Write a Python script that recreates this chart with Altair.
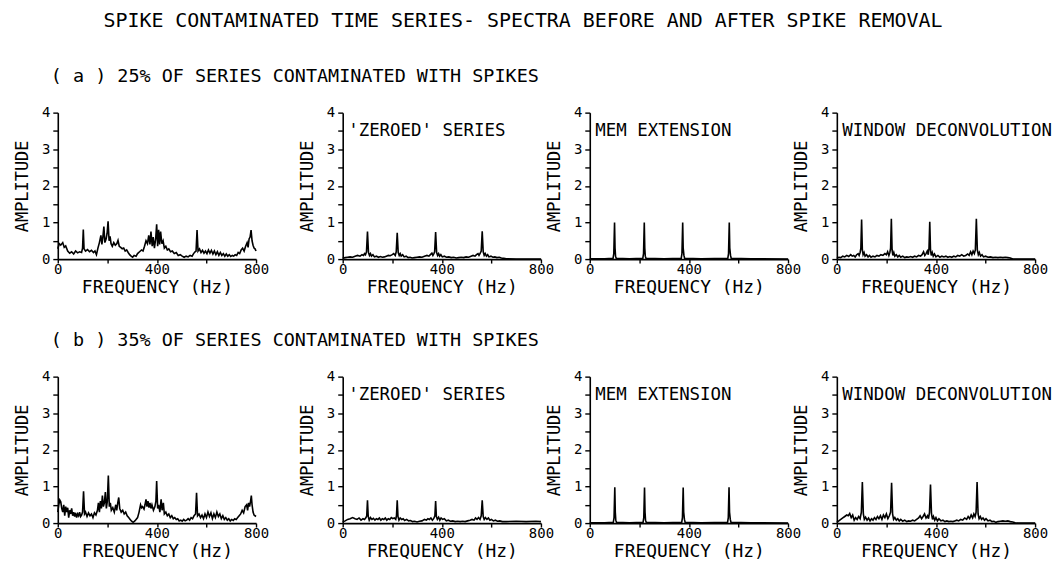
import altair as alt
import pandas as pd

FONT = "DejaVu Sans Mono"

MAIN_TITLE = "SPIKE CONTAMINATED TIME SERIES- SPECTRA BEFORE AND AFTER SPIKE REMOVAL"
ROW_LABELS = ["( a ) 25% OF SERIES CONTAMINATED WITH SPIKES",
              "( b ) 35% OF SERIES CONTAMINATED WITH SPIKES"]
PANEL_LABELS = ["", "'ZEROED'  SERIES", "MEM EXTENSION", "WINDOW DECONVOLUTION"]
X_TICKS = [0, 200, 400, 600, 800]
Y_TICKS = [0, 0.5, 1, 1.5, 2, 2.5, 3, 3.5, 4]

# ---- row (a): 25% contaminated ----
A_RAW_F = [0, 6, 12, 20, 26, 32, 40, 48, 56, 64,
           72, 80, 88, 96, 100, 103, 106, 112, 120, 128,
           136, 144, 150, 156, 162, 168, 174, 178, 182, 186,
           190, 195, 199, 203, 207, 211, 215, 220, 226, 232,
           238, 243, 248, 254, 260, 266, 272, 278, 284, 290,
           296, 302, 308, 316, 322, 330, 338, 344, 350, 356,
           362, 367, 372, 376, 381, 385, 390, 395, 399, 403,
           407, 411, 415, 420, 425, 430, 436, 442, 448, 455,
           462, 470, 478, 486, 494, 502, 510, 518, 526, 534,
           542, 548, 554, 558, 562, 566, 572, 578, 584, 590,
           596, 602, 608, 614, 620, 626, 632, 638, 644, 650,
           656, 662, 668, 674, 680, 686, 692, 698, 704, 710,
           716, 722, 728, 734, 740, 746, 752, 758, 764, 768,
           772, 776, 780, 784, 788, 792, 796, 800]
A_RAW_A = [0.28, 0.42, 0.38, 0.45, 0.32, 0.36, 0.22, 0.16, 0.20, 0.14,
           0.22, 0.17, 0.20, 0.18, 0.30, 0.81, 0.28, 0.22, 0.26, 0.20,
           0.24, 0.18, 0.22, 0.12, 0.30, 0.45, 0.65, 0.40, 0.60, 0.89,
           0.45, 0.55, 0.70, 1.03, 0.50, 0.62, 0.42, 0.35, 0.45, 0.38,
           0.42, 0.51, 0.35, 0.32, 0.28, 0.30, 0.22, 0.25, 0.18, 0.12,
           0.08, 0.05, 0.10, 0.08, 0.15, 0.20, 0.25, 0.22, 0.35, 0.50,
           0.42, 0.65, 0.40, 0.75, 0.35, 0.60, 0.30, 0.55, 0.95, 0.35,
           0.80, 0.40, 0.75, 0.42, 0.50, 0.30, 0.35, 0.25, 0.28, 0.20,
           0.22, 0.15, 0.18, 0.10, 0.12, 0.08, 0.05, 0.08, 0.06, 0.10,
           0.08, 0.15, 0.20, 0.22, 0.79, 0.22, 0.28, 0.18, 0.24, 0.16,
           0.22, 0.15, 0.25, 0.16, 0.24, 0.14, 0.22, 0.12, 0.20, 0.10,
           0.18, 0.10, 0.15, 0.08, 0.14, 0.08, 0.12, 0.07, 0.10, 0.08,
           0.12, 0.10, 0.18, 0.15, 0.25, 0.30, 0.22, 0.35, 0.45, 0.32,
           0.55, 0.60, 0.79, 0.50, 0.38, 0.30, 0.28, 0.22]

A_ZERO_F = [0, 10, 20, 30, 40, 50, 60, 70, 78, 84,
            88, 92, 96, 100, 104, 108, 112, 116, 122, 128,
            136, 144, 152, 160, 168, 176, 184, 192, 200, 206,
            212, 216, 220, 224, 228, 232, 236, 242, 248, 256,
            264, 272, 280, 290, 300, 310, 320, 330, 340, 348,
            354, 360, 364, 368, 371, 375, 379, 383, 387, 391,
            396, 402, 410, 418, 428, 438, 448, 458, 468, 478,
            488, 498, 508, 518, 526, 534, 540, 546, 550, 555,
            559, 563, 567, 571, 575, 580, 585, 590, 598, 606,
            614, 622, 632, 640, 650, 660, 700, 800]
A_ZERO_A = [0.02, 0.04, 0.05, 0.06, 0.05, 0.08, 0.10, 0.08, 0.12, 0.10,
            0.15, 0.12, 0.20, 0.75, 0.18, 0.10, 0.15, 0.08, 0.12, 0.06,
            0.08, 0.05, 0.07, 0.05, 0.06, 0.08, 0.10, 0.09, 0.12, 0.15,
            0.10, 0.20, 0.72, 0.18, 0.10, 0.15, 0.08, 0.12, 0.06, 0.08,
            0.04, 0.05, 0.03, 0.04, 0.05, 0.06, 0.05, 0.08, 0.10, 0.08,
            0.12, 0.16, 0.10, 0.15, 0.20, 0.74, 0.18, 0.10, 0.15, 0.08,
            0.12, 0.06, 0.08, 0.05, 0.06, 0.04, 0.05, 0.03, 0.04, 0.05,
            0.04, 0.06, 0.05, 0.08, 0.10, 0.08, 0.12, 0.15, 0.10, 0.16,
            0.22, 0.76, 0.20, 0.10, 0.15, 0.08, 0.12, 0.06, 0.08, 0.05,
            0.06, 0.04, 0.05, 0.03, 0.02, 0.01, 0.00, 0.00]

A_MEM_F = [0, 60, 94, 97, 100, 102, 104, 107, 160, 214,
           217, 220, 222, 224, 227, 300, 369, 372, 375, 377,
           380, 383, 450, 557, 560, 563, 565, 568, 571, 650, 800]
A_MEM_A = [0.01, 0.01, 0.02, 0.15, 1.00, 0.30, 0.08, 0.02, 0.01, 0.02,
           0.15, 1.00, 0.30, 0.08, 0.02, 0.01, 0.02, 0.15, 1.00, 0.30,
           0.10, 0.02, 0.01, 0.02, 0.15, 1.00, 0.30, 0.10, 0.02, 0.01, 0.00]

A_WIN_F = [0, 8, 16, 24, 32, 40, 48, 56, 62, 68,
           74, 80, 86, 90, 94, 97, 100, 103, 106, 110,
           114, 120, 126, 132, 138, 146, 154, 162, 170, 178,
           186, 194, 200, 205, 210, 214, 217, 220, 223, 226,
           230, 234, 240, 246, 252, 258, 266, 274, 282, 290,
           298, 306, 314, 322, 330, 338, 344, 350, 355, 360,
           365, 369, 372, 375, 378, 381, 385, 389, 394, 400,
           408, 416, 424, 432, 440, 448, 456, 464, 472, 480,
           488, 496, 504, 512, 520, 528, 534, 540, 545, 550,
           555, 559, 563, 567, 571, 575, 580, 586, 592, 600,
           610, 620, 630, 640, 650, 660, 670, 680, 690, 700,
           710, 800]
A_WIN_A = [0.02, 0.05, 0.04, 0.08, 0.06, 0.10, 0.07, 0.12, 0.08, 0.10,
           0.06, 0.12, 0.15, 0.10, 0.18, 0.30, 1.08, 0.25, 0.12, 0.18,
           0.08, 0.12, 0.06, 0.10, 0.05, 0.08, 0.06, 0.10, 0.08, 0.12,
           0.10, 0.15, 0.12, 0.20, 0.10, 0.18, 0.30, 1.10, 0.25, 0.10,
           0.18, 0.08, 0.12, 0.06, 0.10, 0.05, 0.08, 0.04, 0.06, 0.05,
           0.07, 0.05, 0.08, 0.06, 0.10, 0.08, 0.12, 0.20, 0.10, 0.15,
           0.22, 0.12, 0.30, 1.02, 0.25, 0.10, 0.18, 0.08, 0.14, 0.06,
           0.10, 0.05, 0.08, 0.06, 0.08, 0.05, 0.07, 0.05, 0.08, 0.06,
           0.10, 0.08, 0.12, 0.08, 0.10, 0.14, 0.10, 0.20, 0.12, 0.22,
           0.15, 0.25, 1.10, 0.25, 0.12, 0.18, 0.08, 0.12, 0.06, 0.08,
           0.05, 0.06, 0.04, 0.05, 0.04, 0.05, 0.04, 0.05, 0.04, 0.03,
           0.00, 0.00]

# ---- row (b): 35% contaminated ----
B_RAW_F = [0, 4, 8, 12, 16, 20, 24, 28, 32, 36,
           40, 44, 48, 52, 56, 60, 64, 68, 72, 76,
           80, 84, 88, 92, 96, 100, 104, 108, 112, 118,
           124, 130, 136, 142, 148, 154, 160, 164, 168, 172,
           176, 180, 184, 188, 192, 196, 200, 204, 208, 212,
           216, 222, 228, 234, 238, 242, 246, 250, 256, 262,
           268, 274, 280, 286, 292, 298, 304, 310, 316, 322,
           328, 334, 338, 342, 348, 352, 356, 360, 364, 368,
           372, 376, 380, 386, 392, 396, 399, 403, 407, 412,
           417, 421, 426, 430, 436, 442, 448, 454, 460, 466,
           472, 478, 484, 490, 496, 502, 508, 514, 520, 526,
           532, 538, 544, 550, 556, 560, 564, 570, 576, 582,
           588, 594, 600, 606, 612, 618, 624, 630, 636, 642,
           648, 654, 660, 666, 672, 678, 684, 690, 696, 702,
           708, 714, 720, 726, 732, 738, 744, 750, 756, 762,
           766, 770, 774, 778, 781, 784, 788, 792, 796, 800]
B_RAW_A = [0.30, 0.50, 0.63, 0.58, 0.40, 0.30, 0.50, 0.20, 0.45, 0.30,
           0.42, 0.15, 0.35, 0.25, 0.40, 0.20, 0.30, 0.18, 0.28, 0.15,
           0.25, 0.20, 0.30, 0.18, 0.22, 0.30, 0.87, 0.25, 0.30, 0.18,
           0.28, 0.20, 0.25, 0.15, 0.28, 0.22, 0.35, 0.55, 0.30, 0.60,
           0.40, 0.75, 0.45, 0.55, 0.85, 0.40, 0.60, 1.30, 0.45, 0.55,
           0.35, 0.42, 0.30, 0.50, 0.35, 0.55, 0.70, 0.40, 0.30, 0.35,
           0.25, 0.30, 0.20, 0.15, 0.10, 0.05, 0.02, 0.05, 0.10, 0.15,
           0.30, 0.50, 0.42, 0.45, 0.38, 0.50, 0.65, 0.45, 0.60, 0.42,
           0.55, 0.40, 0.50, 0.35, 0.45, 0.60, 1.15, 0.40, 0.50, 0.30,
           0.65, 0.35, 0.55, 0.25, 0.30, 0.20, 0.25, 0.15, 0.20, 0.12,
           0.15, 0.10, 0.12, 0.06, 0.08, 0.05, 0.10, 0.06, 0.08, 0.12,
           0.08, 0.15, 0.12, 0.20, 0.25, 0.83, 0.20, 0.25, 0.15, 0.22,
           0.12, 0.25, 0.15, 0.30, 0.18, 0.28, 0.12, 0.25, 0.15, 0.30,
           0.18, 0.25, 0.12, 0.20, 0.10, 0.15, 0.08, 0.12, 0.06, 0.10,
           0.07, 0.12, 0.10, 0.15, 0.20, 0.25, 0.35, 0.28, 0.45, 0.50,
           0.35, 0.55, 0.45, 0.60, 0.75, 0.50, 0.30, 0.22, 0.20, 0.18]

B_ZERO_F = [0, 10, 20, 30, 40, 50, 58, 66, 74, 82,
            88, 94, 97, 100, 103, 107, 112, 118, 124, 130,
            136, 142, 148, 154, 160, 166, 172, 178, 184, 190,
            196, 202, 208, 214, 217, 220, 223, 227, 232, 238,
            244, 250, 258, 266, 274, 282, 290, 300, 310, 320,
            330, 338, 344, 350, 356, 362, 367, 372, 375, 378,
            382, 387, 392, 397, 403, 410, 418, 426, 434, 444,
            454, 464, 474, 484, 494, 504, 514, 522, 530, 536,
            542, 548, 554, 559, 563, 567, 571, 576, 582, 588,
            594, 600, 608, 616, 624, 634, 644, 660, 700, 740,
            780, 800]
B_ZERO_A = [0.03, 0.06, 0.10, 0.12, 0.15, 0.12, 0.10, 0.14, 0.08, 0.12,
            0.10, 0.15, 0.20, 0.62, 0.18, 0.08, 0.15, 0.10, 0.13, 0.08,
            0.12, 0.10, 0.14, 0.08, 0.12, 0.10, 0.14, 0.08, 0.12, 0.10,
            0.15, 0.12, 0.14, 0.10, 0.20, 0.62, 0.18, 0.08, 0.14, 0.10,
            0.12, 0.07, 0.10, 0.06, 0.07, 0.04, 0.05, 0.03, 0.05, 0.06,
            0.10, 0.08, 0.12, 0.10, 0.14, 0.08, 0.12, 0.20, 0.60, 0.18,
            0.10, 0.16, 0.08, 0.14, 0.10, 0.12, 0.06, 0.08, 0.05, 0.06,
            0.04, 0.05, 0.04, 0.05, 0.04, 0.06, 0.08, 0.10, 0.08, 0.14,
            0.10, 0.15, 0.10, 0.20, 0.62, 0.18, 0.10, 0.15, 0.10, 0.14,
            0.08, 0.10, 0.06, 0.08, 0.05, 0.06, 0.04, 0.04, 0.05, 0.04,
            0.05, 0.04]

B_MEM_F = [0, 60, 95, 98, 101, 103, 105, 108, 160, 215,
           218, 221, 223, 225, 228, 300, 371, 374, 377, 379,
           382, 385, 450, 556, 559, 562, 564, 567, 570, 650, 800]
B_MEM_A = [0.01, 0.01, 0.02, 0.15, 0.98, 0.30, 0.08, 0.02, 0.01, 0.02,
           0.15, 0.97, 0.30, 0.08, 0.02, 0.01, 0.02, 0.15, 0.97, 0.30,
           0.10, 0.02, 0.01, 0.02, 0.15, 0.98, 0.30, 0.10, 0.02, 0.01, 0.00]

B_WIN_F = [0, 8, 16, 24, 32, 40, 46, 52, 58, 64,
           70, 76, 82, 88, 94, 99, 103, 107, 111, 116,
           122, 128, 134, 140, 146, 152, 158, 164, 170, 176,
           182, 188, 194, 200, 206, 212, 217, 221, 225, 229,
           234, 240, 246, 252, 258, 266, 274, 282, 290, 298,
           306, 314, 322, 330, 336, 342, 348, 354, 360, 366,
           370, 374, 378, 382, 386, 390, 395, 400, 406, 412,
           420, 428, 436, 444, 452, 460, 468, 476, 484, 492,
           500, 508, 516, 524, 530, 536, 542, 548, 553, 558,
           562, 566, 570, 574, 579, 584, 590, 596, 602, 610,
           618, 626, 634, 642, 650, 660, 670, 680, 690, 700,
           710, 720, 730, 800]
B_WIN_A = [0.02, 0.06, 0.10, 0.14, 0.18, 0.22, 0.20, 0.26, 0.15, 0.22,
           0.08, 0.15, 0.10, 0.18, 0.12, 0.30, 1.12, 0.25, 0.10, 0.16,
           0.08, 0.14, 0.06, 0.12, 0.08, 0.15, 0.10, 0.18, 0.12, 0.20,
           0.10, 0.22, 0.15, 0.25, 0.12, 0.20, 0.30, 1.10, 0.25, 0.10,
           0.15, 0.08, 0.12, 0.06, 0.10, 0.05, 0.08, 0.04, 0.06, 0.05,
           0.08, 0.06, 0.10, 0.14, 0.20, 0.12, 0.18, 0.25, 0.14, 0.20,
           0.12, 0.30, 1.05, 0.25, 0.10, 0.18, 0.08, 0.15, 0.06, 0.12,
           0.06, 0.08, 0.04, 0.06, 0.04, 0.05, 0.04, 0.06, 0.08, 0.06,
           0.10, 0.08, 0.14, 0.10, 0.18, 0.12, 0.22, 0.14, 0.25, 0.18,
           0.30, 1.12, 0.25, 0.12, 0.18, 0.10, 0.14, 0.08, 0.12, 0.06,
           0.08, 0.04, 0.05, 0.02, 0.04, 0.05, 0.06, 0.05, 0.06, 0.04,
           0.03, 0.01, 0.00, 0.00]

ROWS = [
    [(A_RAW_F, A_RAW_A), (A_ZERO_F, A_ZERO_A), (A_MEM_F, A_MEM_A), (A_WIN_F, A_WIN_A)],
    [(B_RAW_F, B_RAW_A), (B_ZERO_F, B_ZERO_A), (B_MEM_F, B_MEM_A), (B_WIN_F, B_WIN_A)],
]

PANEL_W = 199
FIRST_EXTRA = 38
PANEL_H = 147


def make_panel(freq, amp, label, row_label):
    assert len(freq) == len(amp)
    df = pd.DataFrame({"freq": freq, "amp": amp})
    xscale = alt.Scale(domain=[0, 800], range=[0, PANEL_W], nice=False, zero=False)
    yscale = alt.Scale(domain=[0, 4], nice=False)
    xaxis = alt.Axis(values=X_TICKS,
                     labelExpr="datum.value % 400 == 0 ? format(datum.value, 'd') : ''",
                     title="FREQUENCY (Hz)", tickSize=4, labelPadding=-1,
                     titlePadding=3, labelFontSize=14, titleFontSize=18,
                     labelFlush=False, labelOverlap=False)
    yaxis = alt.Axis(values=Y_TICKS,
                     labelExpr="datum.value % 1 == 0 ? format(datum.value, 'd') : ''",
                     title="AMPLITUDE", tickSize=5, labelPadding=3,
                     titlePadding=10, labelFontSize=14, titleFontSize=17,
                     labelFlush=False, labelOverlap=False)
    line = alt.Chart(df).mark_line(color="black", strokeWidth=1.6).encode(
        x=alt.X("freq:Q", scale=xscale, axis=xaxis),
        y=alt.Y("amp:Q", scale=yscale, axis=yaxis),
    )
    layers = [line]
    if label:
        tdf = pd.DataFrame({"t": [label]})
        txt = alt.Chart(tdf).mark_text(
            align="left", baseline="middle", font=FONT, fontSize=17.5, color="black"
        ).encode(
            x=alt.XDatum(22, type="quantitative", scale=xscale, axis=xaxis),
            y=alt.YDatum(3.5, type="quantitative", scale=yscale, axis=yaxis),
            text="t:N",
        )
        layers.append(txt)
    props = dict(width=PANEL_W + (FIRST_EXTRA if row_label else 0), height=PANEL_H)
    if row_label:
        props["title"] = alt.TitleParams(
            text=row_label, anchor="start", frame="group", dx=-7, offset=20,
            font=FONT, fontSize=18.5, fontWeight="normal", color="black")
    return alt.layer(*layers).properties(**props)


panels = []
for r, row in enumerate(ROWS):
    for c, (f, a) in enumerate(row):
        panels.append(make_panel(f, a, PANEL_LABELS[c], ROW_LABELS[r] if c == 0 else None))

chart = alt.concat(
    *panels, columns=4, spacing={"row": 118, "column": 49}, bounds="flush",
    title=alt.TitleParams(text=MAIN_TITLE, anchor="middle", font=FONT, fontSize=20,
                          fontWeight="normal", color="black", offset=36, dx=-10),
).properties(
    padding={"left": 13, "top": 10, "right": 2, "bottom": 0},
).configure_view(stroke=None).configure_axis(
    domainColor="black", domainWidth=1.6, tickColor="black", tickWidth=1.4,
    labelColor="black", titleColor="black", labelFont=FONT, titleFont=FONT,
    titleFontWeight="normal", grid=False,
)

chart.save("out.html", embed_options={"renderer": "svg", "actions": False})
